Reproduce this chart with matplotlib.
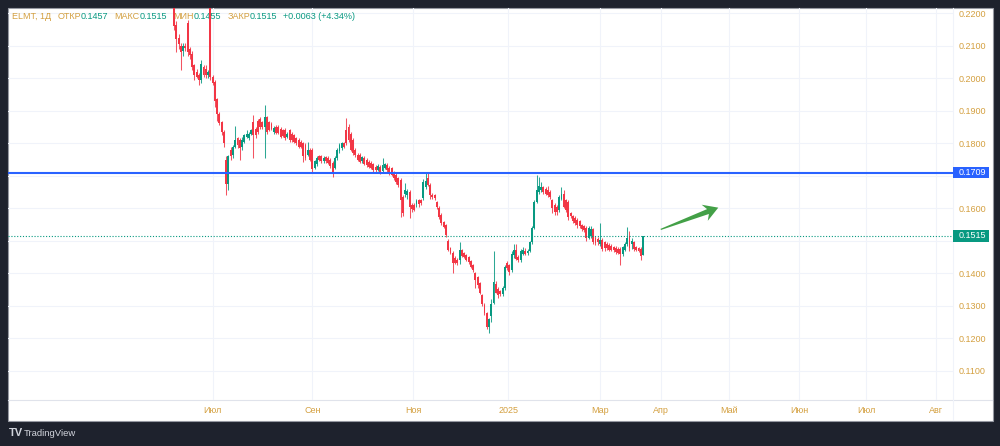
import matplotlib
matplotlib.use('Agg')
import matplotlib.pyplot as plt
import numpy as np
from matplotlib import font_manager as fm
from matplotlib.patches import Rectangle, Polygon
import matplotlib.transforms as mtransforms
from matplotlib.lines import Line2D

# ---------------- data ----------------
opens = [
    0.2250, 0.2165, 0.2125, 0.2100, 0.2085, 0.2100, 0.2170, 0.2090, 0.2075, 0.2040,
    0.2020, 0.2010, 0.1995, 0.2035, 0.2030, 0.2010, 0.2215, 0.2005, 0.1990, 0.1935,
    0.1890, 0.1865, 0.1835, 0.1750, 0.1675, 0.1780, 0.1765, 0.1790, 0.1815, 0.1810,
    0.1790, 0.1805, 0.1820, 0.1815, 0.1830, 0.1865, 0.1845, 0.1870, 0.1875, 0.1865,
    0.1850, 0.1880, 0.1865, 0.1860, 0.1835, 0.1850, 0.1850, 0.1845, 0.1840, 0.1840,
    0.1820, 0.1840, 0.1830, 0.1825, 0.1815, 0.1810, 0.1805, 0.1800, 0.1795, 0.1765,
    0.1780, 0.1780, 0.1725, 0.1735, 0.1760, 0.1760, 0.1745, 0.1758, 0.1755, 0.1750,
    0.1740, 0.1725, 0.1755, 0.1775, 0.1785, 0.1800, 0.1840, 0.1850, 0.1830, 0.1810,
    0.1780, 0.1765, 0.1765, 0.1745, 0.1755, 0.1750, 0.1743, 0.1740, 0.1735, 0.1727,
    0.1718, 0.1727, 0.1715, 0.1725, 0.1734, 0.1725, 0.1724, 0.1712, 0.1703, 0.1693,
    0.1687, 0.1635, 0.1645, 0.1641, 0.1650, 0.1610, 0.1610, 0.1612, 0.1626, 0.1626,
    0.1632, 0.1665, 0.1693, 0.1672, 0.1641, 0.1640, 0.1619, 0.1601, 0.1579, 0.1558,
    0.1549, 0.1500, 0.1478, 0.1463, 0.1447, 0.1441, 0.1441, 0.1472, 0.1462, 0.1456,
    0.1450, 0.1438, 0.1426, 0.1401, 0.1389, 0.1370, 0.1333, 0.1303, 0.1278, 0.1235,
    0.1270, 0.1310, 0.1368, 0.1352, 0.1345, 0.1335, 0.1355, 0.1432, 0.1425, 0.1410,
    0.1455, 0.1472, 0.1450, 0.1440, 0.1460, 0.1468, 0.1462, 0.1470, 0.1495, 0.1540,
    0.1620, 0.1650, 0.1656, 0.1665, 0.1660, 0.1656, 0.1650, 0.1626, 0.1610, 0.1604,
    0.1595, 0.1630, 0.1645, 0.1625, 0.1620, 0.1585, 0.1575, 0.1570, 0.1565, 0.1560,
    0.1548, 0.1545, 0.1540, 0.1510, 0.1515, 0.1535, 0.1510, 0.1505, 0.1490, 0.1503,
    0.1495, 0.1490, 0.1487, 0.1485, 0.1480, 0.1478, 0.1475, 0.1475, 0.1458, 0.1472,
    0.1490, 0.1515, 0.1490, 0.1495, 0.1480, 0.1478, 0.1475, 0.1457,
]
highs = [
    0.2290, 0.2175, 0.2135, 0.2110, 0.2110, 0.2108, 0.2180, 0.2095, 0.2085, 0.2045,
    0.2030, 0.2015, 0.2055, 0.2040, 0.2040, 0.2025, 0.2225, 0.2010, 0.1995, 0.1940,
    0.1895, 0.1870, 0.1840, 0.1760, 0.1765, 0.1790, 0.1795, 0.1853, 0.1820, 0.1815,
    0.1820, 0.1830, 0.1840, 0.1835, 0.1845, 0.1887, 0.1850, 0.1875, 0.1880, 0.1870,
    0.1918, 0.1885, 0.1870, 0.1865, 0.1852, 0.1855, 0.1855, 0.1850, 0.1845, 0.1848,
    0.1835, 0.1845, 0.1835, 0.1830, 0.1820, 0.1815, 0.1810, 0.1805, 0.1800, 0.1804,
    0.1785, 0.1785, 0.1750, 0.1760, 0.1765, 0.1765, 0.1760, 0.1762, 0.1760, 0.1755,
    0.1745, 0.1760, 0.1785, 0.1800, 0.1805, 0.1805, 0.1878, 0.1860, 0.1835, 0.1815,
    0.1785, 0.1770, 0.1770, 0.1762, 0.1760, 0.1755, 0.1748, 0.1745, 0.1740, 0.1732,
    0.1735, 0.1732, 0.1755, 0.1740, 0.1738, 0.1730, 0.1728, 0.1716, 0.1708, 0.1697,
    0.1692, 0.1640, 0.1678, 0.1660, 0.1655, 0.1615, 0.1615, 0.1628, 0.1630, 0.1630,
    0.1690, 0.1709, 0.1712, 0.1678, 0.1646, 0.1645, 0.1624, 0.1606, 0.1584, 0.1562,
    0.1553, 0.1505, 0.1482, 0.1468, 0.1452, 0.1446, 0.1497, 0.1476, 0.1466, 0.1460,
    0.1454, 0.1442, 0.1430, 0.1405, 0.1393, 0.1374, 0.1337, 0.1307, 0.1282, 0.1262,
    0.1320, 0.1470, 0.1375, 0.1357, 0.1350, 0.1362, 0.1425, 0.1437, 0.1430, 0.1468,
    0.1490, 0.1490, 0.1455, 0.1475, 0.1480, 0.1478, 0.1475, 0.1500, 0.1545, 0.1625,
    0.1703, 0.1696, 0.1680, 0.1670, 0.1665, 0.1670, 0.1655, 0.1630, 0.1615, 0.1610,
    0.1640, 0.1665, 0.1655, 0.1630, 0.1625, 0.1590, 0.1580, 0.1575, 0.1570, 0.1565,
    0.1553, 0.1550, 0.1545, 0.1545, 0.1545, 0.1540, 0.1515, 0.1512, 0.1555, 0.1508,
    0.1500, 0.1495, 0.1492, 0.1490, 0.1485, 0.1483, 0.1480, 0.1480, 0.1485, 0.1496,
    0.1543, 0.1530, 0.1510, 0.1500, 0.1485, 0.1482, 0.1480, 0.1515,
]
lows = [
    0.2150, 0.2081, 0.2090, 0.2026, 0.2070, 0.2085, 0.2070, 0.2060, 0.2025, 0.1995,
    0.2000, 0.1980, 0.1985, 0.2005, 0.2000, 0.2000, 0.1995, 0.1980, 0.1912, 0.1870,
    0.1855, 0.1825, 0.1790, 0.1641, 0.1655, 0.1750, 0.1755, 0.1785, 0.1785, 0.1749,
    0.1780, 0.1800, 0.1815, 0.1810, 0.1825, 0.1755, 0.1815, 0.1830, 0.1845, 0.1845,
    0.1755, 0.1830, 0.1838, 0.1840, 0.1830, 0.1828, 0.1828, 0.1815, 0.1818, 0.1810,
    0.1815, 0.1805, 0.1805, 0.1800, 0.1795, 0.1785, 0.1785, 0.1743, 0.1750, 0.1760,
    0.1745, 0.1712, 0.1720, 0.1730, 0.1745, 0.1740, 0.1740, 0.1740, 0.1735, 0.1725,
    0.1696, 0.1720, 0.1750, 0.1770, 0.1780, 0.1785, 0.1795, 0.1805, 0.1775, 0.1765,
    0.1758, 0.1745, 0.1738, 0.1740, 0.1732, 0.1728, 0.1723, 0.1720, 0.1713, 0.1713,
    0.1714, 0.1707, 0.1710, 0.1720, 0.1713, 0.1703, 0.1698, 0.1688, 0.1676, 0.1667,
    0.1573, 0.1575, 0.1635, 0.1630, 0.1570, 0.1590, 0.1592, 0.1605, 0.1605, 0.1610,
    0.1625, 0.1660, 0.1668, 0.1630, 0.1628, 0.1625, 0.1598, 0.1568, 0.1550, 0.1538,
    0.1512, 0.1468, 0.1458, 0.1401, 0.1428, 0.1425, 0.1430, 0.1450, 0.1447, 0.1438,
    0.1430, 0.1415, 0.1405, 0.1355, 0.1355, 0.1335, 0.1300, 0.1272, 0.1230, 0.1216,
    0.1250, 0.1305, 0.1340, 0.1325, 0.1330, 0.1330, 0.1350, 0.1410, 0.1395, 0.1405,
    0.1448, 0.1440, 0.1435, 0.1435, 0.1455, 0.1455, 0.1455, 0.1465, 0.1490, 0.1535,
    0.1615, 0.1645, 0.1650, 0.1645, 0.1640, 0.1635, 0.1630, 0.1585, 0.1580, 0.1580,
    0.1590, 0.1625, 0.1600, 0.1590, 0.1565, 0.1570, 0.1555, 0.1548, 0.1540, 0.1540,
    0.1530, 0.1528, 0.1500, 0.1505, 0.1510, 0.1490, 0.1488, 0.1488, 0.1485, 0.1468,
    0.1470, 0.1472, 0.1468, 0.1468, 0.1466, 0.1460, 0.1458, 0.1426, 0.1452, 0.1468,
    0.1485, 0.1470, 0.1475, 0.1470, 0.1468, 0.1466, 0.1440, 0.1455,
]
closes = [
    0.2160, 0.2120, 0.2105, 0.2080, 0.2100, 0.2093, 0.2080, 0.2072, 0.2035, 0.2010,
    0.2005, 0.1995, 0.2045, 0.2010, 0.2010, 0.2020, 0.2005, 0.1985, 0.1930, 0.1890,
    0.1862, 0.1835, 0.1800, 0.1675, 0.1760, 0.1760, 0.1790, 0.1810, 0.1795, 0.1785,
    0.1810, 0.1825, 0.1830, 0.1830, 0.1840, 0.1825, 0.1825, 0.1835, 0.1850, 0.1850,
    0.1880, 0.1835, 0.1842, 0.1845, 0.1848, 0.1832, 0.1832, 0.1820, 0.1822, 0.1815,
    0.1830, 0.1810, 0.1810, 0.1805, 0.1800, 0.1790, 0.1790, 0.1760, 0.1755, 0.1780,
    0.1750, 0.1720, 0.1745, 0.1755, 0.1750, 0.1745, 0.1755, 0.1745, 0.1740, 0.1730,
    0.1705, 0.1755, 0.1780, 0.1795, 0.1800, 0.1790, 0.1800, 0.1810, 0.1780, 0.1770,
    0.1763, 0.1750, 0.1742, 0.1758, 0.1737, 0.1733, 0.1728, 0.1725, 0.1718, 0.1718,
    0.1730, 0.1712, 0.1733, 0.1736, 0.1718, 0.1708, 0.1703, 0.1693, 0.1681, 0.1672,
    0.1626, 0.1586, 0.1655, 0.1652, 0.1604, 0.1598, 0.1596, 0.1624, 0.1612, 0.1617,
    0.1680, 0.1685, 0.1672, 0.1641, 0.1635, 0.1632, 0.1604, 0.1573, 0.1555, 0.1543,
    0.1518, 0.1472, 0.1463, 0.1432, 0.1432, 0.1432, 0.1472, 0.1454, 0.1450, 0.1441,
    0.1435, 0.1420, 0.1410, 0.1379, 0.1364, 0.1340, 0.1305, 0.1278, 0.1235, 0.1258,
    0.1305, 0.1372, 0.1339, 0.1333, 0.1335, 0.1355, 0.1420, 0.1415, 0.1405, 0.1460,
    0.1472, 0.1445, 0.1440, 0.1470, 0.1472, 0.1460, 0.1470, 0.1495, 0.1540, 0.1620,
    0.1656, 0.1668, 0.1665, 0.1650, 0.1645, 0.1640, 0.1635, 0.1600, 0.1589, 0.1590,
    0.1635, 0.1645, 0.1605, 0.1595, 0.1573, 0.1575, 0.1560, 0.1555, 0.1550, 0.1545,
    0.1535, 0.1532, 0.1510, 0.1540, 0.1535, 0.1497, 0.1493, 0.1495, 0.1503, 0.1475,
    0.1478, 0.1478, 0.1472, 0.1472, 0.1472, 0.1466, 0.1463, 0.1458, 0.1480, 0.1490,
    0.1510, 0.1478, 0.1500, 0.1475, 0.1472, 0.1470, 0.1452, 0.1515,
]

month_ticks = [17, 61, 105.5, 147.5, 188, 215, 245, 276, 305.5, 336.5]
month_labels = ['Июл', 'Сен', 'Ноя', '2025', 'Мар', 'Апр', 'Май', 'Июн', 'Июл', 'Авг']
price_ticks = [0.11, 0.12, 0.13, 0.14, 0.15, 0.16, 0.17, 0.18, 0.19, 0.20, 0.21, 0.22]

level_line = 0.1709
last_price = 0.1515
arrow_tail = (214.8, 0.1535)
arrow_tip = (240.2, 0.1602)

header = [('ELMT, 1Д', 'g', 6), ('ОТКР', 'g', 0), ('0.1457', 't', 6), ('МАКС', 'g', 0),
          ('0.1515', 't', 6), ('МИН', 'g', 0), ('0.1455', 't', 6), ('ЗАКР', 'g', 0),
          ('0.1515', 't', 6), ('+0.0063 (+4.34%)', 't', 0)]

assert len(opens) == len(highs) == len(lows) == len(closes)

# ---------------- style ----------------
names = {f.name for f in fm.fontManager.ttflist}
if 'Liberation Sans Narrow' in names:
    FONT, FS = 'Liberation Sans Narrow', 7.4
else:
    FONT, FS = 'Liberation Sans', 6.5
plt.rcParams['font.family'] = [FONT, 'DejaVu Sans']

GOLD = '#d4a040'
TEAL = '#089981'
GREEN = '#089981'
RED = '#f23645'
BLUE = '#2962ff'
GRID = '#f0f3fa'

W, H = 1000, 446
fig = plt.figure(figsize=(W / 100, H / 100), dpi=100)
fig.patch.set_facecolor('#1e222d')

panel = Rectangle((7.5 / W, 1 - 420.5 / H), 985 / W, 413 / H, transform=fig.transFigure,
                  facecolor='white', edgecolor='#9598a1', lw=0.8, zorder=-5)
fig.patches.append(panel)

ax = fig.add_axes([8 / W, 1 - 400 / H, 945 / W, 392.5 / H])
ax.set_zorder(2)
ax.set_facecolor('none')
ax.set_xlim(-73.3, 343.8)
ax.set_ylim(0.1010, 0.2218)
for s in ax.spines.values():
    s.set_visible(False)

ax.set_yticks(price_ticks)
# labels at 0.17 and 0.15 sit under the price boxes in the reference
ax.set_yticklabels(['' if abs(v - level_line) < 0.004 or abs(v - last_price) < 0.004 else f'{v:.4f}'
                    for v in price_ticks])
ax.set_xticks(month_ticks)
ax.set_xticklabels(month_labels)
ax.yaxis.tick_right()
ax.tick_params(axis='y', length=0, pad=4.3, labelcolor=GOLD, labelsize=FS)
ax.tick_params(axis='x', length=0, pad=4.0, labelcolor=GOLD, labelsize=FS)
ax.grid(True, color=GRID, lw=0.8, zorder=0)
ax.set_axisbelow(True)

# candles
x = np.arange(len(closes))
O = np.array(opens); C = np.array(closes); Hh = np.array(highs); Lw = np.array(lows)
cols = np.where(C >= O, GREEN, RED)
ax.vlines(x, Lw, Hh, colors=cols, lw=0.75, alpha=0.85, zorder=2)
body_bottom = np.minimum(O, C)
body_h = np.maximum(np.abs(C - O), 0.0003)
ax.bar(x, body_h, bottom=body_bottom, width=0.85, color=cols, lw=0, zorder=3)

# horizontal level + last price line
ax.axhline(level_line, color=BLUE, lw=1.5, zorder=4)
ax.axhline(last_price, color=TEAL, lw=0.8, ls=(0, (1, 1.6)), zorder=4)

trans = mtransforms.blended_transform_factory(ax.transAxes, ax.transData)
hh = 5.6 * (0.2218 - 0.1010) / 392.5
for lvl, col in [(level_line, BLUE), (last_price, TEAL)]:
    ax.add_patch(Rectangle((1.0, lvl - hh), 36 / 945, 2 * hh, transform=trans,
                           facecolor=col, edgecolor='none', clip_on=False, zorder=10))
    ax.text(1.0 + 6 / 945, lvl, f'{lvl:.4f}', transform=trans, va='center', ha='left',
            color='white', fontsize=FS, zorder=11, clip_on=False)

# separators
fig.add_artist(Line2D([8 / W, 992 / W], [1 - 400 / H, 1 - 400 / H], transform=fig.transFigure,
                      color='#e0e3eb', lw=0.8, zorder=-1))
fig.add_artist(Line2D([953 / W, 953 / W], [1 - 7.5 / H, 1 - 420 / H], transform=fig.transFigure,
                      color='#f0f3fa', lw=0.8, zorder=-1))

# header (chained pieces)
fig.canvas.draw()
renderer = fig.canvas.get_renderer()
hx = 12.3
for txt, c, gap in header:
    t = ax.text(hx / W, 1 - 16.7 / H, txt, transform=fig.transFigure, va='center', ha='left',
                color=GOLD if c == 'g' else TEAL, fontsize=FS, zorder=1)
    hx += t.get_window_extent(renderer).width + gap

# arrow
p0 = ax.transData.transform(arrow_tail)
p1 = ax.transData.transform(arrow_tip)
d = p1 - p0
L = np.hypot(*d)
u = d / L
n = np.array([-u[1], u[0]])
pts = [p0 + n * 0.6, p0 + u * (L - 11) + n * 2.6, p0 + u * (L - 14.5) + n * 8.6, p1,
       p0 + u * (L - 14.5) - n * 8.6, p0 + u * (L - 11) - n * 2.6, p0 - n * 0.6]
fig.add_artist(Polygon(pts, closed=True, transform=mtransforms.IdentityTransform(),
                       facecolor='#43a047', edgecolor='none', zorder=6))

# footer logo
fig.text(9 / W, 1 - 433 / H, 'TV', color='#d1d4dc', fontsize=8, fontweight='bold', va='center')
fig.text(24 / W, 1 - 433 / H, 'TradingView', color='#d1d4dc', fontsize=FS + 0.3, va='center')

fig.savefig('out.png', dpi=100, facecolor=fig.get_facecolor())
